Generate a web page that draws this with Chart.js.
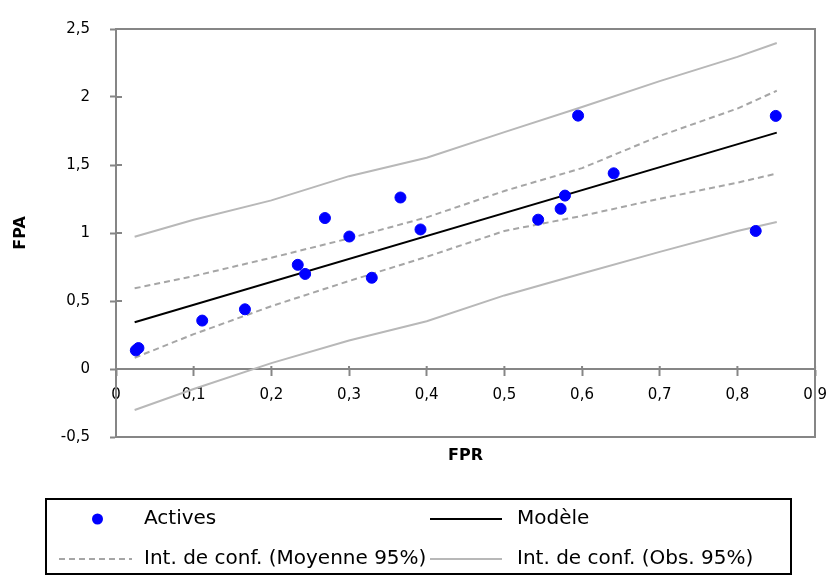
<!DOCTYPE html>
<html>
<head>
<meta charset="utf-8">
<script src="https://cdn.jsdelivr.net/npm/chart.js@4.4.0/dist/chart.umd.min.js"></script>
<style>
  html, body { margin: 0; padding: 0; background: #fff; }
  #wrap { width: 838px; height: 575px; }
</style>
</head>
<body>
<div id="wrap"><canvas id="reg" width="838" height="575"></canvas></div>
<script>
// observations
var fpr = [0.0255, 0.0289, 0.111, 0.166, 0.234, 0.2435, 0.269, 0.3004, 0.3293, 0.3662, 0.392, 0.5435, 0.5724, 0.578, 0.5949, 0.6407, 0.8236, 0.8494];
var fpa = [0.137, 0.154, 0.356, 0.439, 0.766, 0.699, 1.110, 0.974, 0.671, 1.261, 1.026, 1.098, 1.178, 1.275, 1.863, 1.439, 1.015, 1.861];

// fitted line, end points
var modelX = [0.024, 0.8507];
var modelY = [0.344, 1.738];

// confidence bands
var bandX    = [0.024, 0.1, 0.2, 0.3, 0.4, 0.5, 0.6, 0.7, 0.8, 0.8507];
var meanLow  = [0.083, 0.256, 0.462, 0.647, 0.825, 1.015, 1.126, 1.252, 1.370, 1.437];
var meanHigh = [0.593, 0.683, 0.818, 0.960, 1.115, 1.309, 1.477, 1.714, 1.915, 2.046];
var obsLow   = [-0.301, -0.147, 0.043, 0.209, 0.351, 0.541, 0.702, 0.861, 1.015, 1.081];
var obsHigh  = [0.972, 1.097, 1.240, 1.418, 1.553, 1.742, 1.927, 2.117, 2.295, 2.397];

var labels = ['Actives', 'Modèle', 'Int. de conf. (Moyenne 95%)', 'Int. de conf. (Obs. 95%)'];

var axisGrey = '#868686';
var fontName = "'DejaVu Sans', Verdana, sans-serif";

function pts(xs, ys) {
    return xs.map(function(x, i) { return {x: x, y: ys[i]}; });
}

function comma(v) {
    return (Math.round(v * 10) / 10).toString().replace('.', ',');
}

function lineSet(label, xs, ys, color, dash) {
    return {
        label: label,
        data: pts(xs, ys),
        showLine: true,
        borderColor: color,
        borderWidth: 2,
        borderDash: dash,
        pointRadius: 0,
        fill: false
    };
}

// tick marks also poke a little into the plot
var innerTicks = {
    id: 'innerTicks',
    afterDraw: function(chart) {
        var ctx = chart.ctx;
        var xs = chart.scales.x, ys = chart.scales.y;
        var y0 = ys.getPixelForValue(0);
        var left = chart.chartArea.left;
        ctx.save();
        ctx.strokeStyle = axisGrey;
        ctx.lineWidth = 2;
        ctx.beginPath();
        ys.ticks.forEach(function(t) {
            var py = ys.getPixelForValue(t.value);
            ctx.moveTo(left, py);
            ctx.lineTo(left + 6, py);
        });
        xs.ticks.forEach(function(t) {
            var px = xs.getPixelForValue(t.value);
            ctx.moveTo(px, y0);
            ctx.lineTo(px, y0 - 3);
        });
        ctx.stroke();
        ctx.restore();
    }
};

// legend box under the plot
var legendBox = {
    id: 'legendBox',
    afterDraw: function(chart) {
        var ctx = chart.ctx;
        var ds = chart.data.datasets;
        ctx.save();
        ctx.strokeStyle = '#000';
        ctx.lineWidth = 2;
        ctx.strokeRect(46, 499, 745, 75);

        var rows = [519, 559];
        var entries = [
            {set: 0, col: 0, row: 0, text: labels[0]},
            {set: 1, col: 1, row: 0, text: labels[1]},
            {set: 2, col: 0, row: 1, text: labels[2]},
            {set: 4, col: 1, row: 1, text: labels[3]}
        ];
        var cols = [{x1: 59, x2: 132, text: 144}, {x1: 430, x2: 502, text: 517}];

        ctx.font = '20px ' + fontName;
        ctx.textBaseline = 'middle';
        entries.forEach(function(e) {
            var d = ds[e.set];
            var c = cols[e.col];
            var y = rows[e.row];
            if (!d.showLine) {
                ctx.beginPath();
                ctx.fillStyle = d.backgroundColor;
                ctx.arc((c.x1 + c.x2) / 2 + 2, y, d.pointRadius, 0, Math.PI * 2);
                ctx.fill();
            } else {
                ctx.beginPath();
                ctx.setLineDash(d.borderDash || []);
                ctx.strokeStyle = d.borderColor;
                ctx.lineWidth = d.borderWidth;
                ctx.moveTo(c.x1, y);
                ctx.lineTo(c.x2, y);
                ctx.stroke();
                ctx.setLineDash([]);
            }
            ctx.fillStyle = '#000';
            ctx.fillText(e.text, c.text, y);
        });
        ctx.restore();
    }
};

new Chart(document.getElementById('reg'), {
    type: 'scatter',
    data: {
        datasets: [
            {
                label: labels[0],
                data: pts(fpr, fpa),
                backgroundColor: '#0000ff',
                borderColor: '#0000ff',
                pointRadius: 5.5,
                showLine: false
            },
            lineSet(labels[1], modelX, modelY, '#000000', []),
            lineSet(labels[2], bandX, meanLow, '#a6a6a6', [6, 4]),
            lineSet(labels[2], bandX, meanHigh, '#a6a6a6', [6, 4]),
            lineSet(labels[3], bandX, obsLow, '#b8b8b8', []),
            lineSet(labels[3], bandX, obsHigh, '#b8b8b8', [])
        ]
    },
    options: {
        responsive: false,
        animation: false,
        layout: { padding: { left: 0, right: 16, top: 15, bottom: 108 } },
        plugins: {
            legend: { display: false },
            tooltip: { enabled: false }
        },
        scales: {
            x: {
                type: 'linear',
                position: { y: 0 },
                min: 0,
                max: 0.9,
                ticks: {
                    stepSize: 0.1,
                    padding: 11,
                    color: '#000',
                    font: { family: fontName, size: 15 },
                    callback: comma
                },
                grid: { drawOnChartArea: false, tickLength: 6, tickColor: axisGrey, tickWidth: 2 },
                border: { color: axisGrey, width: 2 },
                afterFit: function(s) { s.height = 0; }
            },
            xb: {
                type: 'linear',
                position: 'bottom',
                min: 0,
                max: 0.9,
                ticks: { display: false },
                grid: { display: false, drawTicks: false },
                border: { color: axisGrey, width: 2 },
                title: {
                    display: true,
                    text: 'FPR',
                    color: '#000',
                    font: { family: fontName, size: 16, weight: 'bold' },
                    padding: { top: 0, bottom: 2 }
                },
                afterFit: function(s) { s.height = 30; }
            },
            xt: {
                type: 'linear',
                position: 'top',
                min: 0,
                max: 0.9,
                ticks: { display: false },
                grid: { display: false, drawTicks: false },
                border: { color: axisGrey, width: 2 },
                afterFit: function(s) { s.height = 0; }
            },
            y: {
                type: 'linear',
                position: 'left',
                min: -0.5,
                max: 2.5,
                ticks: {
                    stepSize: 0.5,
                    padding: 20,
                    color: '#000',
                    font: { family: fontName, size: 15 },
                    callback: comma
                },
                grid: { drawOnChartArea: false, tickLength: 6, tickColor: axisGrey, tickWidth: 2 },
                border: { color: axisGrey, width: 2 },
                title: {
                    display: true,
                    text: 'FPA',
                    color: '#000',
                    font: { family: fontName, size: 16, weight: 'bold' },
                    padding: { top: 11, bottom: 0 }
                },
                afterFit: function(s) { s.width = 116; }
            },
            yr: {
                type: 'linear',
                position: 'right',
                min: -0.5,
                max: 2.5,
                ticks: { display: false },
                grid: { display: false, drawTicks: false },
                border: { color: axisGrey, width: 2 },
                afterFit: function(s) { s.width = 0; }
            }
        }
    },
    plugins: [innerTicks, legendBox]
});
</script>
</body>
</html>
